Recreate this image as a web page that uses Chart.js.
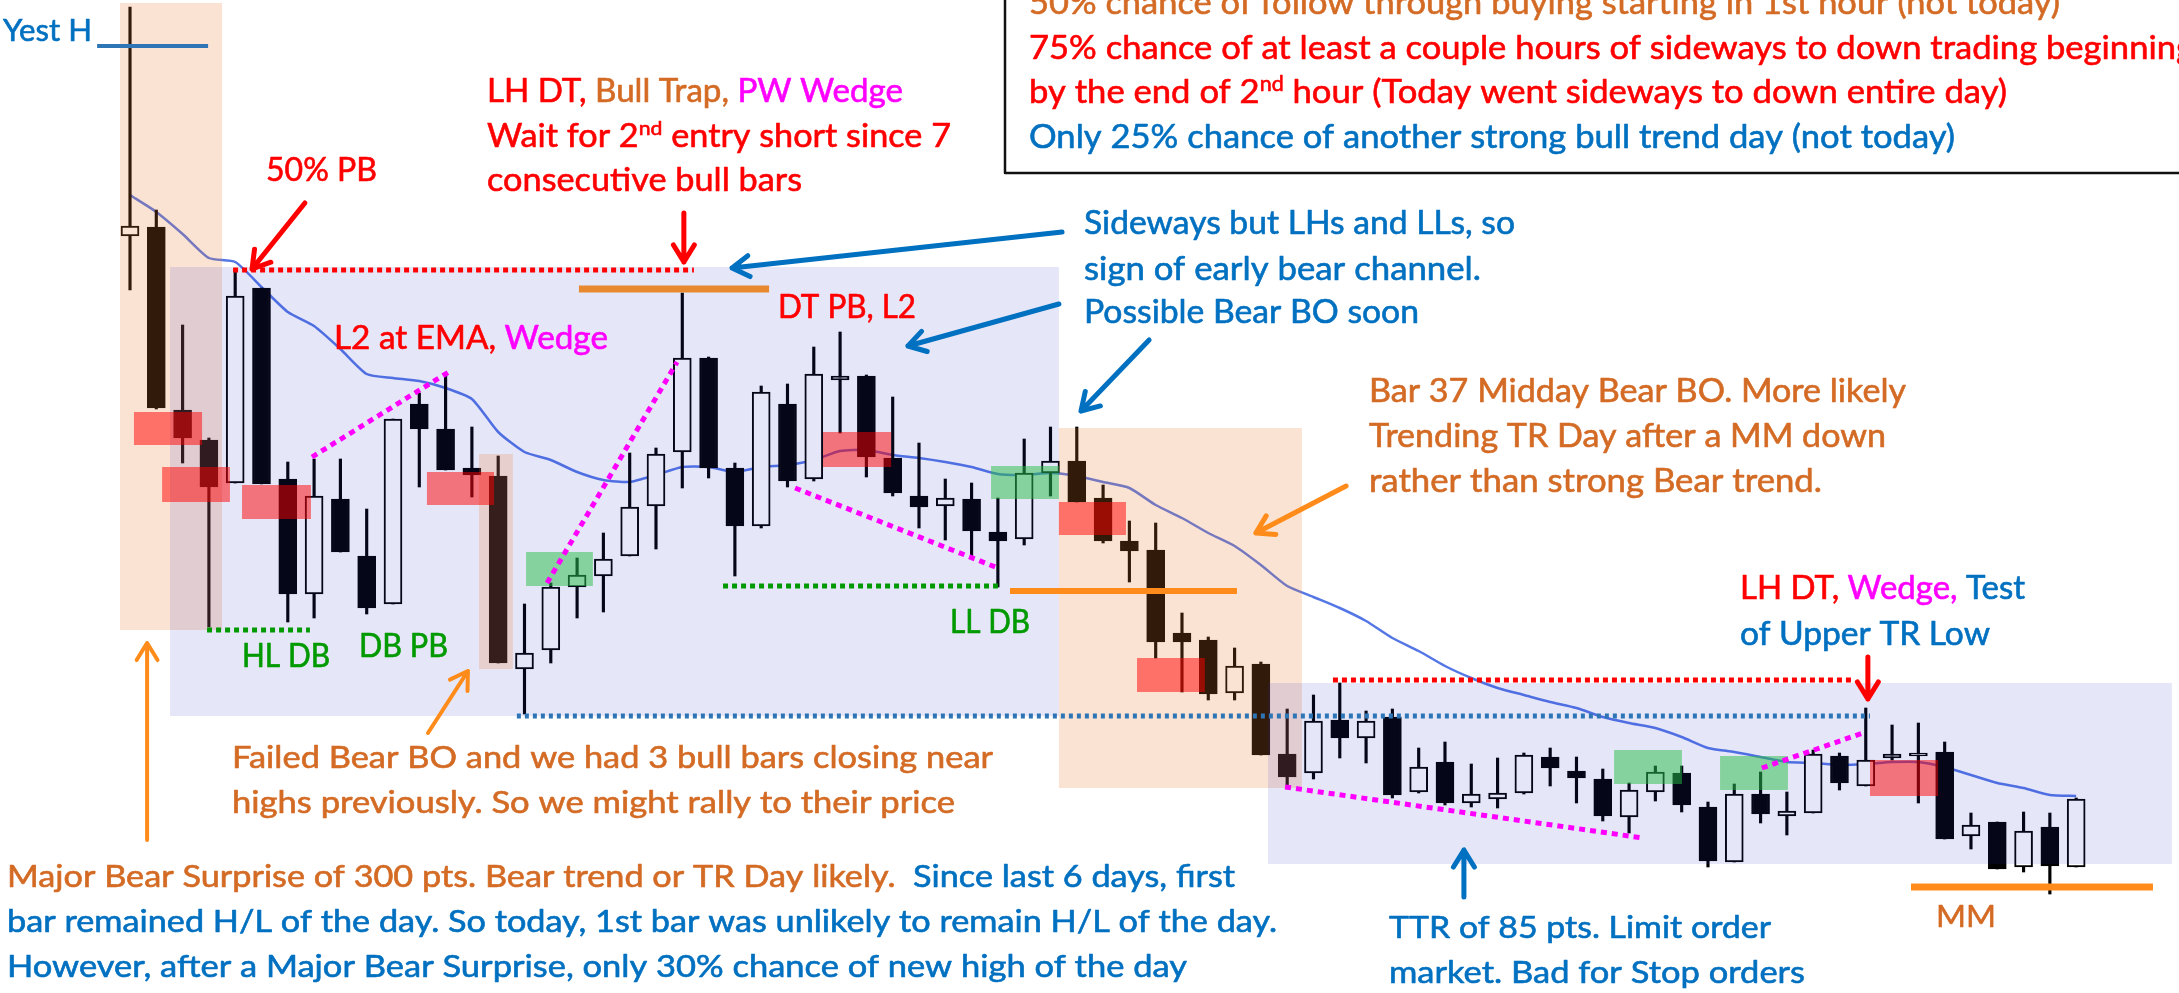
<!DOCTYPE html>
<html lang="en">
<head>
    <meta charset="UTF-8">
    <title>Bear Surprise Day - 5 min chart</title>
    <script src="https://cdn.jsdelivr.net/npm/chart.js"></script>
    <style>
        html, body { margin: 0; padding: 0; background: #fff; }
        .chart-container { position: relative; width: 2179px; height: 993px; }
    </style>
</head>
<body>
    <div class="chart-container">
        <canvas id="priceChart"></canvas>
    </div>

    <script>
        // 5 min bars (1 unit ~ 1 pt)
        const barNo = Array.from({ length: 75 }, (_, i) => i + 1);
        const open = [764,773,590,560,517,712,521,406,501,444, 396,596,571,532,524,331,350,413,424,444,
                      494,548,642,532,474,596,521,620,624,542, 504,494,501,468,461,527,539,502,459,450,
                      367,360,307,336,246,227,280,262,283,208, 238,197,201,207,243,229,221,183,208,227,
                      193,138,206,184,187,244,214,242,244,248, 164,178,133,173,133];
        const high = [993,790,675,562,729,712,538,541,541,491, 581,607,626,573,544,396,417,442,467,547,
                      552,707,643,537,614,616,653,668,625,603, 557,521,517,502,561,573,573,515,479,477,
                      387,363,352,338,291,305,317,289,291,252, 258,236,242,247,252,243,231,217,234,234,
                      198,216,228,208,250,247,292,275,277,258, 187,178,188,187,202];
        const low = [710,591,537,373,517,516,378,382,448,386, 396,513,530,503,337,286,337,382,388,444,
                     451,512,522,424,472,513,519,567,523,504, 472,460,443,413,455,504,498,457,418,342,
                     308,300,300,245,212,221,242,237,202,207, 195,193,192,206,214,197,179,167,199,188,
                     133,138,177,165,187,210,214,240,197,161, 151,131,128,106,133];
        const close = [774,592,562,513,704,516,406,504,448,392, 581,571,530,525,337,347,413,425,441,493,
                       546,642,532,474,608,519,626,624,543,507, 493,502,469,459,527,539,498,459,449,358,
                       358,306,334,245,223,279,262,279,205,233, 197,206,207,245,232,222,184,210,228,195,
                       139,206,186,189,246,217,240,246,247,161, 175,131,169,134,201];
        const ema = [805,788,766,742,738,713,688,674,651,626, 622,619,612,601,568,548,540,528,520,518,
                     525,533,533,528,533,535,540,549,550,545, 542,538,533,526,525,527,524,518,512,495,
                     482,467,454,435,414,403,392,379,362,349, 334,322,312,305,298,292,283,277,272,263,
                     252,248,243,238,237,235,236,238,238,233, 225,217,212,205,204];

        const R = '#FF0000', O = '#D46B25', M = '#FF00FF', B = '#0070C0', G = '#009A00';
        const ORANGE = '#FF8C1A', DOTBLUE = '#2E75B6';
        const PEACH = 'rgba(237,125,49,0.21)', LAV = 'rgba(40,50,200,0.12)';
        const REDBOX = 'rgba(255,0,0,0.5)', GREENBOX = 'rgba(40,190,70,0.5)';

        // shaded zones: [fromBar, toBar, top, bottom, colour]
        const zones = [
            [0.62, 4.50, 997, 370, PEACH],
            [2.52, 36.32, 733, 284, LAV],
            [14.27, 15.56, 546, 331, PEACH],
            [36.32, 45.56, 572, 212, PEACH],
            [44.27, 78.64, 317, 136, LAV],
            [1.15, 3.74, 588, 555, REDBOX],
            [2.22, 4.80, 533, 498, REDBOX],
            [5.26, 7.88, 515, 481, REDBOX],
            [12.29, 14.84, 528, 495, REDBOX],
            [27.35, 29.94, 568, 533, REDBOX],
            [36.32, 38.87, 498, 465, REDBOX],
            [39.29, 41.87, 342, 308, REDBOX],
            [67.16, 69.75, 240, 204, REDBOX],
            [16.06, 18.60, 448, 414, GREENBOX],
            [33.74, 36.32, 534, 501, GREENBOX],
            [57.43, 60.01, 250, 216, GREENBOX],
            [61.46, 64.04, 244, 210, GREENBOX]
        ];

        // lines: [bar1, price1, bar2, price2, colour, width, dash]
        const marks = [
            [-0.25, 954, 3.97, 954, DOTBLUE, 4, []],
            [4.92, 730, 22.44, 730, R, 5, [5, 4]],
            [18.07, 711, 25.30, 711, '#E8892F', 7, []],
            [3.93, 370, 7.84, 370, G, 5, [5, 4]],
            [23.55, 414, 34.0, 414, G, 5, [5, 4]],
            [7.92, 543, 13.24, 630, M, 5, [6, 5]],
            [16.86, 417, 21.80, 638, M, 5, [6, 5]],
            [26.29, 512, 34.0, 432, M, 5, [6, 5]],
            [44.92, 213, 58.53, 162, M, 5, [6, 5]],
            [63.05, 232, 66.89, 267, M, 5, [6, 5]],
            [15.71, 284, 67.16, 284, DOTBLUE, 5, [4, 4]],
            [46.74, 320, 66.59, 320, R, 5, [5, 4]],
            [34.46, 409, 43.09, 409, ORANGE, 6, []],
            [68.72, 113, 77.92, 113, ORANGE, 7, []]
        ];

        // arrows: [fromBar, fromPrice, tipBar, tipPrice, colour, width]
        const arrows = [
            [7.65, 797, 5.64, 731, R, 5],
            [22.06, 787, 22.06, 738, R, 5],
            [36.44, 768, 23.89, 732, B, 5],
            [36.32, 696, 30.58, 654, B, 5],
            [39.75, 660, 37.16, 589, B, 5],
            [47.24, 514, 43.81, 467, ORANGE, 5],
            [12.33, 267, 13.85, 329, ORANGE, 4],
            [1.65, 160, 1.65, 357, ORANGE, 4],
            [51.72, 103, 51.72, 150, B, 5],
            [67.08, 343, 67.08, 301, R, 5]
        ];

        // text lines: [x, baseline, size, width, segments]
        const labels = [
            [3, 41, 31, 89, [['Yest H', B]]],
            [266, 181, 32, 111, [['50% PB', R]]],
            [487, 102, 32, 416, [['LH DT, ', R], ['Bull Trap, ', O], ['PW Wedge', M]]],
            [487, 147, 32, 464, [['Wait for 2', R], ['nd', R, 1], [' entry short since 7', R]]],
            [487, 191, 32, 315, [['consecutive bull bars', R]]],
            [334, 349, 32, 274, [['L2 at EMA, ', R], ['Wedge', M]]],
            [778, 318, 32, 138, [['DT PB, L2', R]]],
            [242, 667, 32, 88, [['HL DB', G]]],
            [359, 657, 32, 89, [['DB PB', G]]],
            [950, 633, 32, 80, [['LL DB', G]]],
            [1084, 234, 32, 431, [['Sideways but LHs and LLs, so', B]]],
            [1084, 280, 32, 397, [['sign of early bear channel.', B]]],
            [1084, 323, 32, 335, [['Possible Bear BO soon', B]]],
            [1369, 402, 32, 537, [['Bar 37 Midday Bear BO. More likely', O]]],
            [1369, 447, 32, 517, [['Trending TR Day after a MM down', O]]],
            [1369, 492, 32, 453, [['rather than strong Bear trend.', O]]],
            [1740, 599, 32, 285, [['LH DT, ', R], ['Wedge, ', M], ['Test', B]]],
            [1740, 645, 32, 250, [['of Upper TR Low', B]]],
            [232, 768, 30, 761, [['Failed Bear BO and we had 3 bull bars closing near', O]]],
            [232, 813, 30, 723, [['highs previously. So we might rally to their price', O]]],
            [7, 887, 30, 1228, [['Major Bear Surprise of 300 pts. Bear trend or TR Day likely.  ', O], ['Since last 6 days, first', B]]],
            [7, 932, 30, 1270, [['bar remained H/L of the day. So today, 1st bar was unlikely to remain H/L of the day.', B]]],
            [7, 977, 30, 1180, [['However, after a Major Bear Surprise, only 30% chance of new high of the day', B]]],
            [1389, 938, 31, 382, [['TTR of 85 pts. Limit order', B]]],
            [1389, 983, 31, 416, [['market. Bad for Stop orders', B]]],
            [1936, 927, 30, 60, [['MM', O]]],
            [1029, 14, 33, 1031, [['50% chance of follow through buying starting in 1st hour (not today)', O]]],
            [1029, 59, 33, 1165, [['75% chance of at least a couple hours of sideways to down trading beginning', R]]],
            [1029, 103, 33, 978, [['by the end of 2', R], ['nd', R, 1], [' hour (Today went sideways to down entire day)', R]]],
            [1029, 148, 33, 926, [['Only 25% chance of another strong bull trend day (not today)', B]]]
        ];

        const FONT = 'Lato, "Open Sans", sans-serif';

        function drawLine(ctx, segs, x, y, size, w) {
            let nat = 0;
            segs.forEach(s => {
                ctx.font = (s[2] ? size * 0.62 : size) + 'px ' + FONT;
                nat += ctx.measureText(s[0]).width;
            });
            ctx.save();
            ctx.translate(x, y);
            ctx.scale(w ? w / nat : 1, 1);
            let cx = 0;
            segs.forEach(s => {
                ctx.font = (s[2] ? size * 0.62 : size) + 'px ' + FONT;
                ctx.fillStyle = s[1];
                ctx.strokeStyle = s[1];
                ctx.lineWidth = 0.6;
                ctx.fillText(s[0], cx, s[2] ? -size * 0.36 : 0);
                ctx.strokeText(s[0], cx, s[2] ? -size * 0.36 : 0);
                cx += ctx.measureText(s[0]).width;
            });
            ctx.restore();
        }

        const annotations = {
            id: 'annotations',
            afterDatasetsDraw(chart) {
                const ctx = chart.ctx;
                const X = v => chart.scales.x.getPixelForValue(v);
                const Y = v => chart.scales.y.getPixelForValue(v);
                ctx.save();

                zones.forEach(z => {
                    ctx.fillStyle = z[4];
                    ctx.fillRect(X(z[0]), Y(z[2]), X(z[1]) - X(z[0]), Y(z[3]) - Y(z[2]));
                });

                marks.forEach(m => {
                    ctx.strokeStyle = m[4];
                    ctx.lineWidth = m[5];
                    ctx.setLineDash(m[6]);
                    ctx.lineCap = 'butt';
                    ctx.beginPath();
                    ctx.moveTo(X(m[0]), Y(m[1]));
                    ctx.lineTo(X(m[2]), Y(m[3]));
                    ctx.stroke();
                });
                ctx.setLineDash([]);

                arrows.forEach(a => {
                    const x1 = X(a[0]), y1 = Y(a[1]), x2 = X(a[2]), y2 = Y(a[3]);
                    const ang = Math.atan2(y2 - y1, x2 - x1);
                    ctx.strokeStyle = a[4];
                    ctx.lineWidth = a[5];
                    ctx.lineCap = 'round';
                    ctx.lineJoin = 'round';
                    ctx.beginPath();
                    ctx.moveTo(x1, y1);
                    ctx.lineTo(x2, y2);
                    ctx.moveTo(x2 - 20 * Math.cos(ang - 0.55), y2 - 20 * Math.sin(ang - 0.55));
                    ctx.lineTo(x2, y2);
                    ctx.lineTo(x2 - 20 * Math.cos(ang + 0.55), y2 - 20 * Math.sin(ang + 0.55));
                    ctx.stroke();
                });

                // probability box top right
                ctx.fillStyle = '#fff';
                ctx.fillRect(1005, -10, 1200, 183);
                ctx.strokeStyle = '#111';
                ctx.lineWidth = 2.5;
                ctx.strokeRect(1005, -10, 1200, 183);

                ctx.textBaseline = 'alphabetic';
                labels.forEach(l => drawLine(ctx, l[4], l[0], l[1], l[2], l[3]));
                ctx.restore();
            }
        };

        const ctx = document.getElementById('priceChart').getContext('2d');
        const priceChart = new Chart(ctx, {
            type: 'bar',
            data: {
                datasets: [
                    {
                        label: 'Body',
                        data: barNo.map((x, i) => ({ x, y: [open[i], close[i]] })),
                        backgroundColor: barNo.map((x, i) => close[i] >= open[i] ? '#ffffff' : '#000000'),
                        borderColor: '#000',
                        borderWidth: 2,
                        borderSkipped: false,
                        barThickness: 18,
                        grouped: false,
                        order: 0
                    },
                    {
                        label: 'Wick',
                        data: barNo.map((x, i) => ({ x, y: [low[i], high[i]] })),
                        backgroundColor: '#000',
                        barThickness: 2.5,
                        grouped: false,
                        order: 1
                    },
                    {
                        type: 'line',
                        label: 'EMA',
                        data: barNo.map((x, i) => ({ x, y: ema[i] })),
                        borderColor: '#5577E6',
                        borderWidth: 2.5,
                        pointRadius: 0,
                        tension: 0.2,
                        fill: false,
                        order: 2
                    }
                ]
            },
            options: {
                responsive: true,
                maintainAspectRatio: false,
                animation: false,
                layout: { padding: 0 },
                plugins: { legend: { display: false }, tooltip: { enabled: false } },
                scales: {
                    x: { type: 'linear', min: -3.943, max: 78.91, offset: false, display: false },
                    y: { min: 7, max: 1000, display: false }
                }
            },
            plugins: [annotations]
        });
    </script>
</body>
</html>
